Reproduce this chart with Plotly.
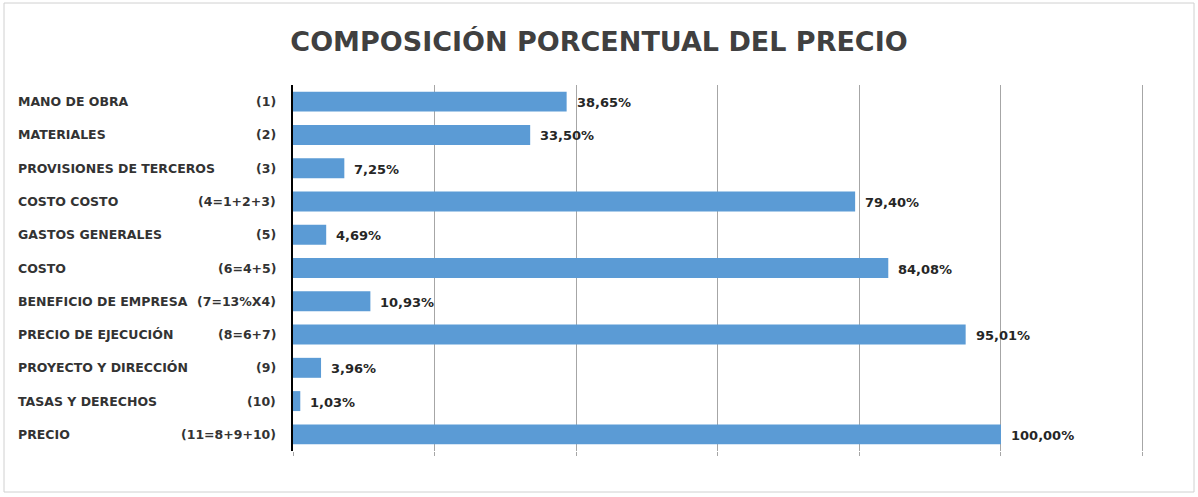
import plotly.graph_objects as go

names = ["MANO DE OBRA", "MATERIALES", "PROVISIONES DE TERCEROS", "COSTO COSTO",
         "GASTOS GENERALES", "COSTO", "BENEFICIO DE EMPRESA", "PRECIO DE EJECUCIÓN",
         "PROYECTO Y DIRECCIÓN", "TASAS Y DERECHOS", "PRECIO"]
codes = ["(1)", "(2)", "(3)", "(4=1+2+3)", "(5)", "(6=4+5)", "(7=13%X4)", "(8=6+7)",
         "(9)", "(10)", "(11=8+9+10)"]
values = [38.65, 33.50, 7.25, 79.40, 4.69, 84.08, 10.93, 95.01, 3.96, 1.03, 100.00]
title = "COMPOSICIÓN PORCENTUAL DEL PRECIO"

W, H = 1198, 497
L, R, T, B = 293, 54, 85, 46
pw = W - L - R
ph = H - T - B

def px2paper(px):
    return (px - L) / pw

def py2paper(py):
    return (H - B - py) / ph

labels = [f"{v:.2f}".replace(".", ",") + "%" for v in values]
cats = [f"{n} {c}" for n, c in zip(names, codes)]

fig = go.Figure(go.Bar(
    x=values, y=cats, orientation="h",
    marker=dict(color="#5B9BD5", line=dict(width=0)),
    width=0.6, hoverinfo="x+y",
))

lab_font = dict(family="DejaVu Sans", size=12.5, color="#333333", weight="bold")
annotations = []
for cat, n, c, v, t in zip(cats, names, codes, values, labels):
    annotations.append(dict(x=px2paper(16), xref="paper", y=cat, yref="y", text=n,
                            xanchor="left", showarrow=False, font=lab_font))
    annotations.append(dict(x=px2paper(278), xref="paper", y=cat, yref="y", text=c,
                            xanchor="right", showarrow=False, font=lab_font))
    annotations.append(dict(x=v, xref="x", y=cat, yref="y", text=t, xanchor="left",
                            xshift=8, yshift=-1, showarrow=False,
                            font=dict(family="DejaVu Sans", size=13, color="#262626",
                                      weight="bold")))

fig.update_layout(
    width=W, height=H,
    margin=dict(l=L, r=R, t=T, b=B),
    paper_bgcolor="white", plot_bgcolor="white",
    title=dict(text=title, x=0.5, xanchor="center", y=1 - 42 / H, yanchor="middle",
               font=dict(family="DejaVu Sans", size=27, color="#404040", weight="bold")),
    xaxis=dict(range=[0, 120.2], dtick=20, showgrid=True, gridcolor="#A6A6A6", gridwidth=1,
               showticklabels=False, ticks="outside", ticklen=4, tickcolor="#A6A6A6",
               zeroline=False, showline=False, fixedrange=True),
    yaxis=dict(autorange="reversed", showticklabels=False, showgrid=False,
               showline=True, linecolor="#000000", linewidth=2, ticks="", zeroline=False),
    showlegend=False,
    annotations=annotations,
    shapes=[dict(type="rect", xref="paper", yref="paper",
                 x0=px2paper(4), x1=px2paper(1194), y0=py2paper(492), y1=py2paper(3),
                 line=dict(color="#D0D0D0", width=1),
                 fillcolor="rgba(0,0,0,0)", layer="below")],
)

fig.write_html("out.html")
